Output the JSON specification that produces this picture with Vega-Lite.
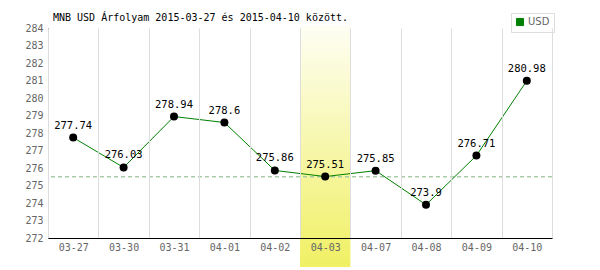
{
  "$schema": "https://vega.github.io/schema/vega-lite/v6.json",
  "width": 504,
  "height": 210,
  "autosize": "none",
  "padding": {"left": 48, "top": 28, "right": 48, "bottom": 32},
  "background": "white",
  "title": {
    "text": "MNB USD Árfolyam 2015-03-27 és 2015-04-10 között.",
    "anchor": "start",
    "frame": "group",
    "font": "DejaVu Sans Mono",
    "fontSize": 10,
    "fontWeight": "normal",
    "color": "#000",
    "baseline": "alphabetic",
    "offset": -18,
    "dx": 5
  },
  "config": {
    "view": {"stroke": null},
    "axis": {
      "domainColor": "#000",
      "domainWidth": 1,
      "gridColor": "#dddddd",
      "gridWidth": 1,
      "ticks": false,
      "labelFont": "DejaVu Sans Mono",
      "labelFontSize": 10,
      "labelColor": "#666",
      "title": null
    }
  },
  "data": {
    "values": [
      {"date": "03-27", "rate": 277.74, "label": "277.74", "currency": "USD"},
      {"date": "03-30", "rate": 276.03, "label": "276.03", "currency": "USD"},
      {"date": "03-31", "rate": 278.94, "label": "278.94", "currency": "USD"},
      {"date": "04-01", "rate": 278.6, "label": "278.6", "currency": "USD"},
      {"date": "04-02", "rate": 275.86, "label": "275.86", "currency": "USD"},
      {"date": "04-03", "rate": 275.51, "label": "275.51", "currency": "USD"},
      {"date": "04-07", "rate": 275.85, "label": "275.85", "currency": "USD"},
      {"date": "04-08", "rate": 273.9, "label": "273.9", "currency": "USD"},
      {"date": "04-09", "rate": 276.71, "label": "276.71", "currency": "USD"},
      {"date": "04-10", "rate": 280.98, "label": "280.98", "currency": "USD"}
    ]
  },
  "encoding": {
    "x": {
      "field": "date",
      "type": "ordinal",
      "scale": {
        "type": "band",
        "domain": ["03-27", "03-30", "03-31", "04-01", "04-02", "04-03", "04-07", "04-08", "04-09", "04-10"],
        "paddingInner": 0,
        "paddingOuter": 0
      },
      "axis": {
        "grid": true,
        "tickBand": "extent",
        "labelAngle": 0,
        "labelPadding": 4,
        "labelBaseline": "top",
        "zindex": 1
      }
    }
  },
  "layer": [
    {
      "data": {"values": [{"date": "04-03"}]},
      "mark": {
        "type": "rect",
        "color": {
          "gradient": "linear",
          "x1": 0, "y1": 0, "x2": 0, "y2": 1,
          "stops": [
            {"offset": 0, "color": "#fefef4"},
            {"offset": 1, "color": "#f0f064"}
          ]
        }
      },
      "encoding": {
        "y": {
          "datum": 284.15,
          "type": "quantitative",
          "scale": {"domain": [272, 284], "nice": false, "zero": false},
          "axis": {
            "values": [272, 273, 274, 275, 276, 277, 278, 279, 280, 281, 282, 283, 284],
            "labelPadding": 5
          }
        },
        "y2": {"datum": 270.35}
      }
    },
    {
      "mark": {"type": "rule", "color": "#a8cca8", "strokeDash": [4, 3], "strokeWidth": 1},
      "encoding": {
        "y": {
          "datum": 275.51,
          "type": "quantitative",
          "scale": {"domain": [272, 284], "nice": false, "zero": false},
          "axis": {
            "values": [272, 273, 274, 275, 276, 277, 278, 279, 280, 281, 282, 283, 284],
            "labelPadding": 5
          }
        },
        "x": null
      }
    },
    {
      "mark": {"type": "line", "strokeWidth": 1},
      "encoding": {
        "y": {
          "field": "rate",
          "type": "quantitative",
          "scale": {"domain": [272, 284], "nice": false, "zero": false},
          "axis": {
            "values": [272, 273, 274, 275, 276, 277, 278, 279, 280, 281, 282, 283, 284],
            "labelPadding": 5
          }
        },
        "color": {
          "field": "currency",
          "type": "nominal",
          "scale": {"range": ["#008000"]},
          "legend": {
            "orient": "none",
            "legendX": 463,
            "legendY": -15,
            "title": null,
            "symbolType": "square",
            "symbolSize": 50,
            "strokeColor": "#dddddd",
            "fillColor": "white",
            "padding": 4,
            "labelFont": "DejaVu Sans",
            "labelFontSize": 10,
            "labelColor": "#666",
            "labelOffset": 3,
            "encode": {
              "symbols": {"update": {"fill": {"value": "#008000"}, "stroke": {"value": "#444"}, "strokeWidth": {"value": 1}}}
            }
          }
        }
      }
    },
    {
      "mark": {"type": "point", "filled": true, "color": "#000", "size": 64, "opacity": 1},
      "encoding": {
        "y": {
          "field": "rate",
          "type": "quantitative",
          "scale": {"domain": [272, 284], "nice": false, "zero": false},
          "axis": {
            "values": [272, 273, 274, 275, 276, 277, 278, 279, 280, 281, 282, 283, 284],
            "labelPadding": 5
          }
        }
      }
    },
    {
      "mark": {"type": "text", "font": "DejaVu Sans Mono", "fontSize": 10.5, "color": "#000", "baseline": "alphabetic", "dy": -9},
      "encoding": {
        "y": {
          "field": "rate",
          "type": "quantitative",
          "scale": {"domain": [272, 284], "nice": false, "zero": false},
          "axis": {
            "values": [272, 273, 274, 275, 276, 277, 278, 279, 280, 281, 282, 283, 284],
            "labelPadding": 5
          }
        },
        "text": {"field": "label"}
      }
    }
  ]
}
